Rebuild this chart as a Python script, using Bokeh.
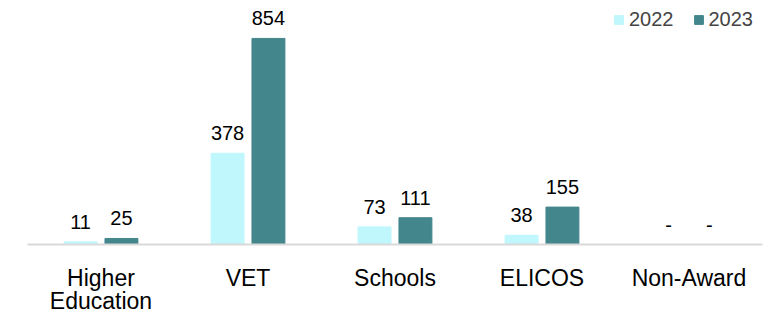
from bokeh.plotting import figure
from bokeh.models import ColumnDataSource, FixedTicker, Range1d, LabelSet, Legend, LegendItem
from bokeh.core.properties import value
from bokeh.embed import file_html
from bokeh.resources import INLINE

categories = ["Higher\nEducation", "VET", "Schools", "ELICOS", "Non-Award"]
vals_2022 = [11, 378, 73, 38, 0]
vals_2023 = [25, 854, 111, 155, 0]
text_2022 = ["11", "378", "73", "38", "-"]
text_2023 = ["25", "854", "111", "155", "-"]

C22 = "#BFF7FC"
C23 = "#43878C"
FONT = "Liberation Sans"

n = len(categories)
xs = [i + 0.5 for i in range(n)]
off = 0.139
w = 0.224

s22 = ColumnDataSource(dict(x=[v - off for v in xs], top=vals_2022, txt=text_2022))
s23 = ColumnDataSource(dict(x=[v + off for v in xs], top=vals_2023, txt=text_2023))

p = figure(frame_width=735, frame_height=236, output_backend="svg", toolbar_location=None,
           x_range=Range1d(0, n), y_range=Range1d(0, 978),
           min_border_left=27, min_border_right=1, min_border_top=8, min_border_bottom=68)
p.outline_line_color = None
p.grid.grid_line_color = None
p.yaxis.visible = False

r22 = p.vbar(x="x", top="top", width=w, source=s22, color=C22)
r23 = p.vbar(x="x", top="top", width=w, source=s23, color=C23)

for s in (s22, s23):
    p.add_layout(LabelSet(x="x", y="top", text="txt", source=s, y_offset=13,
                          text_align="center", text_baseline="bottom",
                          text_font=value(FONT), text_font_size="20px", text_color="#000000"))

ax = p.xaxis[0]
ax.ticker = FixedTicker(ticks=xs)
ax.major_label_overrides = {x: c for x, c in zip(xs, categories)}
ax.axis_line_color = "#D9D9D9"
ax.axis_line_width = 2
ax.major_tick_line_color = None
ax.minor_tick_line_color = None
ax.major_label_text_font = FONT
ax.major_label_text_font_size = "23px"
ax.major_label_text_line_height = 0.9
ax.major_label_text_color = "#000000"
ax.major_label_standoff = 14

legend = Legend(items=[LegendItem(label="2022", renderers=[r22]),
                       LegendItem(label="2023", renderers=[r23])],
                orientation="horizontal", location=(586, 213),
                label_text_font=FONT, label_text_font_size="20px",
                glyph_width=11, glyph_height=11, spacing=19, padding=0, margin=0,
                label_standoff=5, border_line_color=None, background_fill_alpha=0)
p.add_layout(legend)

open("out.html", "w").write(file_html(p, INLINE))
